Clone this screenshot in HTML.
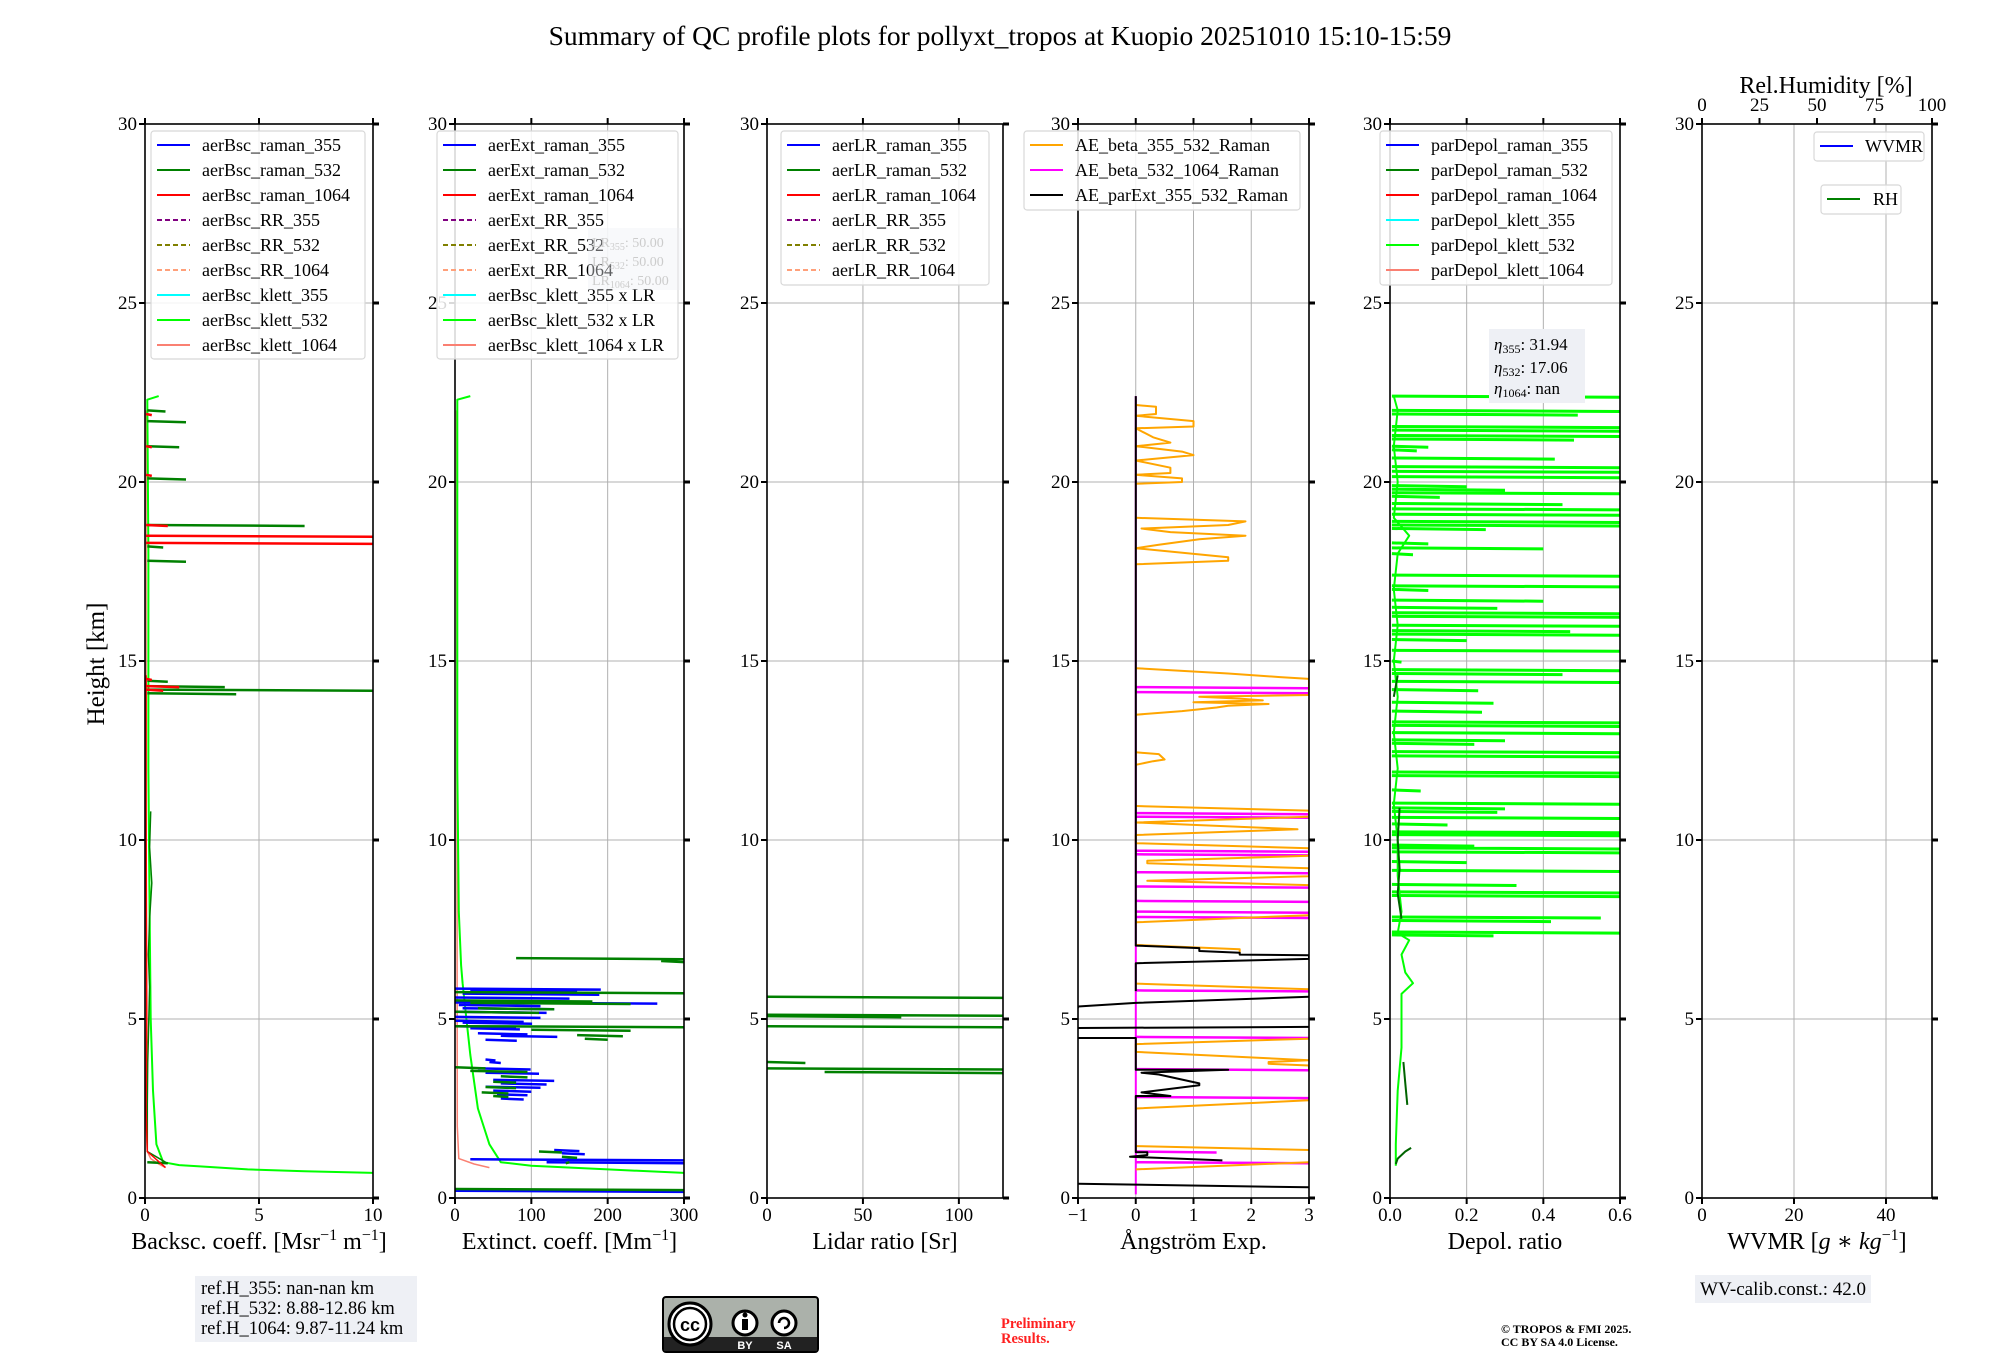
<!DOCTYPE html>
<html><head><meta charset="utf-8"><style>
html,body{margin:0;padding:0;background:#fff;}
svg{display:block;font-family:"Liberation Serif","DejaVu Serif",serif;}
</style></head><body>
<svg id="chart" width="2000" height="1360" viewBox="0 0 2000 1360" xmlns="http://www.w3.org/2000/svg">
<text x="1000" y="45" font-size="27.5" text-anchor="middle">Summary of QC profile plots for pollyxt_tropos at Kuopio 20251010 15:10-15:59</text>
<g id="panels"></g>
<text transform="translate(104,664) rotate(-90)" font-size="25" text-anchor="middle">Height [km]</text>
<text x="1826" y="93" font-size="24" text-anchor="middle">Rel.Humidity [%]</text>
<g>
<rect x="195" y="1276" width="222" height="66" fill="#eef0f5"/>
<text x="201" y="1294" font-size="18.5">ref.H_355: nan-nan km</text>
<text x="201" y="1314" font-size="18.5">ref.H_532: 8.88-12.86 km</text>
<text x="201" y="1334" font-size="18.5">ref.H_1064: 9.87-11.24 km</text>
</g>
<g>
<rect x="663" y="1297" width="155" height="55" rx="3" fill="#abb1aa" stroke="#000" stroke-width="2"/>
<rect x="664" y="1337" width="153" height="14" fill="#222"/>
<circle cx="690" cy="1324" r="21" fill="#fff" stroke="#000" stroke-width="3"/>
<circle cx="690" cy="1324" r="16" fill="#fff" stroke="#000" stroke-width="2.5"/>
<text x="690" y="1331" font-size="18" font-weight="bold" text-anchor="middle" font-family="Liberation Sans, sans-serif">cc</text>
<circle cx="745" cy="1323" r="12" fill="#fff" stroke="#000" stroke-width="3"/>
<circle cx="784" cy="1323" r="12" fill="#fff" stroke="#000" stroke-width="3"/>
<rect x="742" y="1319" width="6" height="11" fill="#000"/><circle cx="745" cy="1315" r="2.5" fill="#000"/>
<path d="M779 1323 a5 5 0 1 1 5 5" fill="none" stroke="#000" stroke-width="2.5"/>
<text x="745" y="1349" font-size="11" font-weight="bold" fill="#fff" text-anchor="middle" font-family="Liberation Sans, sans-serif">BY</text>
<text x="784" y="1349" font-size="11" font-weight="bold" fill="#fff" text-anchor="middle" font-family="Liberation Sans, sans-serif">SA</text>
</g>
<text x="1001" y="1328" font-size="14.5" font-weight="bold" fill="#ff2020">Preliminary</text>
<text x="1001" y="1343" font-size="14.5" font-weight="bold" fill="#ff2020">Results.</text>
<text x="1501" y="1333" font-size="12" font-weight="bold">© TROPOS &amp; FMI 2025.</text>
<text x="1501" y="1346" font-size="12" font-weight="bold">CC BY SA 4.0 License.</text>
<g>
<rect x="1695" y="1275" width="176" height="28" fill="#eef0f5"/>
<text x="1783" y="1295" font-size="19" text-anchor="middle">WV-calib.const.: 42.0</text>
</g>
</svg>
<script>
// ---------- data ----------
const yTickLabels = [0,5,10,15,20,25,30];
const bscTicks = [0,5,10];
const extTicks = [0,100,200,300];
const lrTicks = [0,50,100];
const aeTicks = [-1,0,1,2,3];
const depolTicks = ["0.0","0.2","0.4","0.6"];
const wvTicks = [0,20,40];
const rhTicks = [0,25,50,75,100];

// panel 1 backscatter
const bscKlett532H = [0.7,0.75,0.8,0.88,0.92,1.0,1.5,3,5,8,12,18,22.3,22.4];
const bscKlett532V = [10,7,4.5,2.5,1.5,0.8,0.5,0.35,0.25,0.2,0.15,0.15,0.1,0.6];
const bscKlett1064H = [0.85,0.95,1.1,1.3,2,22];
const bscKlett1064V = [0.9,0.6,0.25,0.1,0.05,0.05];
const bscRaman532SpikeH = [22.0,21.7,21.0,20.1,18.8,18.2,17.8,14.45,14.3,14.2,14.1,1.0];
const bscRaman532SpikeV = [0.9,1.8,1.5,1.8,7.0,0.8,1.8,1.0,3.5,10,4.0,1.0];
const bscRaman532BaseH = [1.0,1.3,2.6,3.8,4.5,5.9,6.8,7.8,8.8,9.8,10.8];
const bscRaman532BaseV = [0.9,0.1,0.1,0.12,0.15,0.2,0.15,0.2,0.3,0.2,0.25];
const bscRaman1064SpikeH = [21.9,21.0,20.2,18.8,18.5,18.3,14.5,14.3,14.2];
const bscRaman1064SpikeV = [0.3,0.3,0.3,1.0,10,10,0.3,1.5,0.8];
const bscRaman1064BaseH = [0.85,1.3,2.5,5,8,11,14.6];
const bscRaman1064BaseV = [0.9,0.1,0.05,0.08,0.06,0.05,0.05];

// panel 2 extinction
const extKlett532H = [0.7,0.8,0.9,1.0,1.5,2.5,4,5,6,6.5,8,12,22.3,22.4];
const extKlett532V = [300,200,100,60,45,30,20,15,10,8,5,3,3,20];
const extKlett1064H = [0.85,0.95,1.1,2,22];
const extKlett1064V = [45,25,5,3,2];
const extRaman355H = [5.85,5.8,5.71,5.6,5.46,5.39,5.3,5.2,5.06,4.95,4.9,4.8,4.74,4.6,4.53,4.42,3.87,3.8,3.62,3.5,3.3,3.2,3.11,3.0,2.9,2.78,1.34,1.25,1.08,1.0,0.2];
const extRaman355V0 = [0,20,10,0,0,5,10,0,0,0,10,0,20,30,60,40,40,45,30,40,50,60,40,50,55,60,130,140,20,120,0];
const extRaman355V1 = [191,160,189,150,265,112,130,120,112,90,101,80,85,95,134,81,53,60,99,110,130,120,112,100,95,90,163,170,300,300,300];
const extRaman532H = [6.7,6.62,5.75,5.52,5.45,5.3,5.2,4.8,4.7,4.55,4.45,3.65,3.55,3.4,3.25,3.1,2.95,2.85,1.3,1.15,1.0,0.25];
const extRaman532V0 = [80,270,0,0,20,30,0,0,100,160,170,0,20,60,50,40,35,50,110,140,150,0];
const extRaman532V1 = [300,300,300,180,230,130,110,300,230,220,200,40,95,95,80,80,70,70,140,160,145,300];

// panel 3 lidar ratio
const lrRaman532H = [5.62,5.12,5.08,4.8,3.8,3.62,3.52];
const lrRaman532V0 = [0,0,0,0,0,0,30];
const lrRaman532V1 = [123,123,70,123,20,123,123];

// panel 4 Angstrom
const aeBetaH = [22.15,22.1,21.9,21.85,21.7,21.55,21.5,21.25,21.1,21.0,20.85,20.75,20.6,20.4,20.25,20.2,20.1,20.0,19.95,NaN,19.0,18.9,18.8,18.7,18.6,18.5,18.4,18.25,18.15,17.9,17.8,17.7,NaN,14.8,14.65,14.55,14.5,14.3,14.05,14.0,13.95,13.9,13.85,13.8,13.75,13.7,13.6,13.5,NaN,12.45,12.4,12.25,12.2,12.1,NaN,10.95,10.82,10.65,10.49,10.30,10.14,9.91,9.77,9.56,9.42,9.35,9.21,8.99,8.86,8.74,NaN,7.9,7.7,NaN,7.07,6.95,6.85,NaN,5.99,5.83,NaN,4.45,4.3,4.08,3.85,3.8,3.75,3.7,3.6,NaN,2.73,2.5,NaN,1.45,1.34,NaN,1.0,0.8];
const aeBetaV = [0,0.35,0.35,0,1.0,1.0,0,0.3,0.6,0,0.8,1.0,0,0.6,0.6,0,0.8,0.8,0,NaN,0,1.9,1.6,0.1,0.6,1.9,1.1,0.4,0,1.6,1.6,0,NaN,0,1.6,2.5,3,3,3,1.1,1.8,2.2,1.0,2.3,1.6,1.4,0.8,0,NaN,0,0.4,0.5,0.3,0,NaN,0,3,3,0,2.8,0,0,3,3,0.2,0.2,3,3,0.2,3,NaN,3,0,NaN,0,1.8,1.8,NaN,0,3,NaN,3,0,0,3,2.3,2.3,3,3,NaN,3,0,NaN,0,3,NaN,3,0];
const aeBeta1064SpikeH = [14.27,14.13,10.75,10.65,9.7,9.6,9.1,8.7,8.3,8.0,7.85,5.8,4.5,3.6,2.82,1.3,1.0];
const aeBeta1064SpikeV = [3,3,3,3,3,3,3,3,3,3,3,3,3,3,3,1.4,3];
const aeParExtH = [22.4,7.05,6.98,6.9,6.85,6.8,6.78,6.68,6.56,5.78,NaN,5.62,5.45,5.35,5.3,NaN,4.78,4.75,NaN,4.47,4.47,3.58,3.58,3.5,3.45,3.2,3.15,2.95,2.85,2.85,1.28,1.28,1.2,1.15,1.05,NaN,0.4,0.3];
const aeParExtV = [0,0,1.1,1.1,1.8,1.8,3,3,0,0,NaN,3,0,-1,-1,NaN,3,-1,NaN,-1,0,0,1.6,0.1,0.4,1.1,1.1,0.1,0.6,0,0,0.2,0.2,-0.1,1.5,NaN,-1,3];

// panel 5 depolarization
const depolKlett532SpikeH = [22.4,22.0,21.9,21.55,21.45,21.3,21.2,21.0,20.9,20.67,20.43,20.3,20.15,19.9,19.8,19.7,19.6,19.4,19.25,19.1,18.9,18.8,18.7,18.3,18.16,18.0,17.4,17.1,17.0,16.7,16.5,16.35,16.25,16.0,15.85,15.75,15.6,15.3,15.0,14.76,14.65,14.43,14.2,13.85,13.6,13.3,13.2,13.0,12.8,12.7,12.47,12.35,11.9,11.8,11.4,11.03,10.9,10.8,10.63,10.45,10.23,10.15,9.86,9.78,9.67,9.4,9.15,8.76,8.55,8.45,7.85,7.75,7.43,7.35];
const depolKlett532SpikeV = [0.6,0.6,0.49,0.6,0.6,0.6,0.48,0.1,0.07,0.43,0.6,0.6,0.6,0.2,0.3,0.6,0.13,0.45,0.6,0.6,0.6,0.6,0.25,0.1,0.4,0.06,0.6,0.6,0.1,0.4,0.28,0.6,0.6,0.6,0.47,0.6,0.2,0.6,0.03,0.6,0.45,0.6,0.23,0.27,0.24,0.6,0.6,0.6,0.3,0.22,0.6,0.6,0.6,0.6,0.08,0.6,0.3,0.28,0.6,0.15,0.6,0.6,0.22,0.6,0.6,0.2,0.6,0.33,0.6,0.6,0.55,0.42,0.6,0.27];
const depolKlett532BaseH = [0.9,1.5,3,4.2,5,5.7,6.0,6.3,6.8,7.2,7.4,8,9,10,11,12,13,14,15,16,17,18,18.5,19,20,21,22,22.4];
const depolKlett532BaseV = [0.015,0.015,0.02,0.03,0.03,0.03,0.06,0.04,0.03,0.05,0.02,0.03,0.02,0.02,0.01,0.02,0.01,0.02,0.01,0.02,0.01,0.02,0.05,0.01,0.02,0.01,0.02,0.01];
const depolRaman532H = [0.95,1.1,1.3,1.4,NaN,2.6,3.2,3.8,NaN,7.8,8.5,9.2,10,10.9,NaN,14.0,14.3,14.6];
const depolRaman532V = [0.015,0.02,0.04,0.055,NaN,0.045,0.04,0.035,NaN,0.03,0.02,0.025,0.02,0.025,NaN,0.01,0.015,0.02];

// ---------- layout ----------
const NS = "http://www.w3.org/2000/svg";
const TOP = 124, BOT = 1198, HMAX = 30;
const panels = [
  {name:"backscatter", left:145, right:373, xmin:0, xmax:10, ticks:bscTicks, label:"Backsc. coeff. [Msr⁻¹ m⁻¹]"},
  {name:"extinction", left:455, right:684, xmin:0, xmax:300, ticks:extTicks, label:"Extinct. coeff. [Mm⁻¹]"},
  {name:"lidar-ratio", left:767, right:1003, xmin:0, xmax:123, ticks:lrTicks, label:"Lidar ratio [Sr]"},
  {name:"angstrom", left:1078, right:1309, xmin:-1, xmax:3, ticks:aeTicks, label:"Ångström Exp."},
  {name:"depol", left:1390, right:1620, xmin:0, xmax:0.6, ticks:depolTicks, label:"Depol. ratio"},
  {name:"wvmr", left:1702, right:1932, xmin:0, xmax:50, ticks:wvTicks, label:"WVMR [g * kg⁻¹]"}
];
const root = document.getElementById('panels');
function el(tag, attrs, parent){ const e=document.createElementNS(NS,tag); for(const k in attrs) e.setAttribute(k,attrs[k]); (parent||root).appendChild(e); return e; }
function Y(h){ return BOT - h/HMAX*(BOT-TOP); }
function X(p,v){ return p.left + (Number(v)-p.xmin)/(p.xmax-p.xmin)*(p.right-p.left); }

const groups = [];
panels.forEach((p,i)=>{
  const g = el('g',{});
  
  
  const cp = el('clipPath',{id:'clip'+i}, g);
  el('rect',{x:p.left,y:TOP,width:p.right-p.left,height:BOT-TOP}, cp);
  yTickLabels.forEach(t=>{
    const gl = el('line',{x1:p.left,x2:p.right,y1:Y(t),y2:Y(t),stroke:'#b0b0b0','stroke-width':1}, g);
    
    
  });
  p.ticks.forEach(t=>{
    const gl = el('line',{x1:X(p,t),x2:X(p,t),y1:TOP,y2:BOT,stroke:'#b0b0b0','stroke-width':1}, g);
    
    
  });
  const plot = el('g',{'clip-path':'url(#clip'+i+')'}, g);
  groups.push(plot);
  const fr = el('rect',{x:p.left,y:TOP,width:p.right-p.left,height:BOT-TOP,fill:'none',stroke:'#000','stroke-width':1.6}, g);
  
  
  yTickLabels.forEach(t=>{
    el('line',{x1:p.left-6,x2:p.left,y1:Y(t),y2:Y(t),stroke:'#000','stroke-width':2}, g);
    el('line',{x1:p.right,x2:p.right+6,y1:Y(t),y2:Y(t),stroke:'#000','stroke-width':3}, g);
    const tl = el('text',{x:p.left-8,y:Y(t)+6,'font-size':19,'text-anchor':'end'}, g);
    
    
    tl.textContent = t;
  });
  p.ticks.forEach(t=>{
    el('line',{x1:X(p,t),x2:X(p,t),y1:BOT,y2:BOT+6,stroke:'#000','stroke-width':2}, g);
    if(i<5) el('line',{x1:X(p,t),x2:X(p,t),y1:TOP-6,y2:TOP,stroke:'#000','stroke-width':2}, g);
    const tl = el('text',{x:X(p,t),y:1221,'font-size':19,'text-anchor':'middle'}, g);
    
    
    tl.textContent = (t<0?'−'+(-t):t);
  });
  const xl = el('text',{x:(p.left+p.right)/2,y:1249,'font-size':24,'text-anchor':'middle'}, g);
  
  
  if(i===5){ xl.innerHTML = 'WVMR [<tspan font-style="italic">g</tspan> ∗ <tspan font-style="italic">kg</tspan><tspan dy="-9" font-size="16">−1</tspan><tspan dy="9">]</tspan>'; }
  else if(i===0){ xl.innerHTML = 'Backsc. coeff. [Msr<tspan dy="-9" font-size="16">−1</tspan><tspan dy="9"> m</tspan><tspan dy="-9" font-size="16">−1</tspan><tspan dy="9">]</tspan>'; }
  else if(i===1){ xl.innerHTML = 'Extinct. coeff. [Mm<tspan dy="-9" font-size="16">−1</tspan><tspan dy="9">]</tspan>'; }
  else xl.textContent = p.label;
});
(function(){
  const p = panels[5], g = groups[5].parentNode;
  rhTicks.forEach(t=>{
    const x = p.left + t/100*(p.right-p.left);
    el('line',{x1:x,x2:x,y1:TOP-6,y2:TOP,stroke:'#000','stroke-width':2}, g);
    const tl = el('text',{x:x,y:111,'font-size':19,'text-anchor':'middle'}, g);
    
    
    tl.textContent = t;
  });
})();

function line(pi, H, V, color, w, name){
  const p = panels[pi]; let d=''; let pen=false;
  for(let k=0;k<H.length;k++){
    if(isNaN(H[k])||isNaN(V[k])){ pen=false; continue; }
    d += (pen?'L':'M') + X(p,V[k]).toFixed(1)+' '+Y(H[k]).toFixed(1)+' ';
    pen=true;
  }
  const e = el('path',{d:d,fill:'none',stroke:color,'stroke-width':w,'stroke-linejoin':'round'}, groups[pi]);
  
  
}
function spikes(pi, H, V0, V1, color, w, name){
  const p = panels[pi]; let d='';
  for(let k=0;k<H.length;k++){
    const v0 = Array.isArray(V0)?V0[k]:V0;
    d += 'M'+X(p,v0).toFixed(1)+' '+Y(H[k]).toFixed(1)+' L'+X(p,V1[k]).toFixed(1)+' '+Y(H[k]-0.03).toFixed(1)+' ';
  }
  const e = el('path',{d:d,fill:'none',stroke:color,'stroke-width':w}, groups[pi]);
  
  
}

line(0,bscKlett1064H,bscKlett1064V,'#fa8072',1.5,'bsc-klett-1064-line');
line(0,bscKlett532H,bscKlett532V,'#00ff00',2,'bsc-klett-532-line');
line(0,bscRaman532BaseH,bscRaman532BaseV,'#008000',1.5,'bsc-raman-532-line');
spikes(0,bscRaman532SpikeH,0.1,bscRaman532SpikeV,'#008000',2.5,'bsc-raman-532-spikes');
line(0,bscRaman1064BaseH,bscRaman1064BaseV,'#ff0000',1.5,'bsc-raman-1064-line');
spikes(0,bscRaman1064SpikeH,0.05,bscRaman1064SpikeV,'#ff0000',2.5,'bsc-raman-1064-spikes');
line(1,extKlett1064H,extKlett1064V,'#fa8072',1.5,'ext-klett-1064-line');
line(1,extKlett532H,extKlett532V,'#00ff00',2,'ext-klett-532-line');
spikes(1,extRaman355H,extRaman355V0,extRaman355V1,'#0000ff',2.5,'ext-raman-355-spikes');
spikes(1,extRaman532H,extRaman532V0,extRaman532V1,'#008000',2.5,'ext-raman-532-spikes');
spikes(2,lrRaman532H,lrRaman532V0,lrRaman532V1,'#008000',2.5,'lr-raman-532-spikes');
line(3,[22.4,0.1],[0,0],'#ff00ff',2,'ae-beta-532-1064-baseline');
spikes(3,aeBeta1064SpikeH,0,aeBeta1064SpikeV,'#ff00ff',2.5,'ae-beta-532-1064-spikes');
line(3,aeBetaH,aeBetaV,'#ffa500',2,'ae-beta-355-532-line');
line(3,aeParExtH,aeParExtV,'#000000',2,'ae-parext-355-532-line');
line(4,depolKlett532BaseH,depolKlett532BaseV,'#00ff00',2,'depol-klett-532-line');
spikes(4,depolKlett532SpikeH,0.005,depolKlett532SpikeV,'#00ff00',3,'depol-klett-532-spikes');
line(4,depolRaman532H,depolRaman532V,'#006400',2,'depol-raman-532-line');

function legend(name, x0, y0, w, h, items, textOff){
  const g = el('g',{});
  
  
  el('rect',{x:x0,y:y0,width:w,height:h,rx:3,fill:'rgba(255,255,255,0.85)',stroke:'#d8d8d8','stroke-width':1.2}, g);
  items.forEach((it,k)=>{
    const y = y0+14+k*25;
    const ln = el('line',{x1:x0+6,x2:x0+39,y1:y,y2:y,stroke:it[1],'stroke-width':2}, g);
    if(it[2]) ln.setAttribute('stroke-dasharray','5,3');
    const t = el('text',{x:x0+(textOff||51),y:y+6,'font-size':18}, g);
    
    
    t.textContent = it[0];
  });
}
legend('backscatter-legend',151,131,214,228,[["aerBsc_raman_355","#0000ff"],["aerBsc_raman_532","#008000"],["aerBsc_raman_1064","#ff0000"],["aerBsc_RR_355","#800080",1],["aerBsc_RR_532","#808000",1],["aerBsc_RR_1064","#ffa07a",1],["aerBsc_klett_355","#00ffff"],["aerBsc_klett_532","#00ff00"],["aerBsc_klett_1064","#fa8072"]]);
legend('extinction-legend',437,131,241,228,[["aerExt_raman_355","#0000ff"],["aerExt_raman_532","#008000"],["aerExt_raman_1064","#ff0000"],["aerExt_RR_355","#800080",1],["aerExt_RR_532","#808000",1],["aerExt_RR_1064","#ffa07a",1],["aerBsc_klett_355 x LR","#00ffff"],["aerBsc_klett_532 x LR","#00ff00"],["aerBsc_klett_1064 x LR","#fa8072"]]);
legend('lidar-ratio-legend',781,131,208,154,[["aerLR_raman_355","#0000ff"],["aerLR_raman_532","#008000"],["aerLR_raman_1064","#ff0000"],["aerLR_RR_355","#800080",1],["aerLR_RR_532","#808000",1],["aerLR_RR_1064","#ffa07a",1]]);
legend('angstrom-legend',1024,131,276,79,[["AE_beta_355_532_Raman","#ffa500"],["AE_beta_532_1064_Raman","#ff00ff"],["AE_parExt_355_532_Raman","#000000"]]);
legend('depol-legend',1380,131,232,154,[["parDepol_raman_355","#0000ff"],["parDepol_raman_532","#008000"],["parDepol_raman_1064","#ff0000"],["parDepol_klett_355","#00ffff"],["parDepol_klett_532","#00ff00"],["parDepol_klett_1064","#fa8072"]]);
legend('wvmr-legend',1814,132,110,29,[["WVMR","#0000ff"]]);
legend('rh-legend',1821,185,80,29,[["RH","#008000"]],52);

(function(){
  const g = el('g',{});
  
  
  el('rect',{x:588,y:228,width:94,height:62,fill:'rgba(238,240,245,0.4)'}, g);
  [["355",247],["532",266],["1064",285]].forEach(a=>{
    const t = el('text',{x:592,y:a[1],'font-size':14,fill:'#cccccc'}, g);
    t.innerHTML = 'LR<tspan font-size="10" dy="3">'+a[0]+'</tspan><tspan dy="-3">: 50.00</tspan>';
  });
  const g2 = el('g',{});
  
  
  el('rect',{x:1489,y:329,width:96,height:74,fill:'#eef0f5'}, g2);
  [["355","31.94",350],["532","17.06",373],["1064","nan",394]].forEach(a=>{
    const t = el('text',{x:1494,y:a[2],'font-size':17}, g2);
    t.innerHTML = '<tspan font-style="italic">η</tspan><tspan font-size="12" dy="3">'+a[0]+'</tspan><tspan dy="-3">: '+a[1]+'</tspan>';
  });
})();
</script>
</body></html>
